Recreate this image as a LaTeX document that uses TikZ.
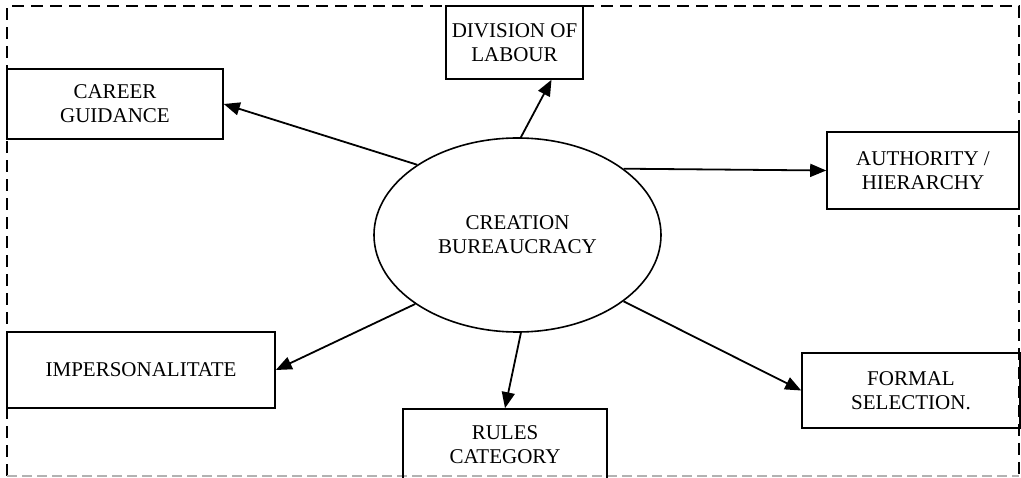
\documentclass[tikz,border=0pt]{standalone}
\usepackage{fontspec}
\setmainfont{Liberation Serif}
\usetikzlibrary{shapes.geometric, arrows.meta}
\tikzset{
    every picture/.style={x=1pt, y=-1pt},
    topic/.style={draw, rectangle, line width=1.6pt, align=center, inner sep=0pt,
        font=\fontsize{21}{24}\selectfont},
    hub/.style={draw, ellipse, line width=1.6pt, align=center, inner sep=0pt,
        minimum width=287pt, minimum height=194pt, font=\fontsize{21}{24}\selectfont},
    spoke/.style={line width=1.8pt, -{Triangle[length=16pt, width=13pt]}},
    frame/.style={line width=2.5pt, dash pattern=on 12pt off 7pt},
    framebase/.style={line width=1.2pt, gray!60, dash pattern=on 10pt off 5pt}
}

\begin{document}
\begin{tikzpicture}
    \useasboundingbox (0,0) rectangle (1021,478);

    % Dashed frame
    \draw[frame] (7,476) -- (7,6) -- (1019,6) -- (1019,476);
    \draw[framebase] (7,476) -- (1019,476);

    % Central ellipse
    \node[hub] (bureau) at (517.5,235) {CREATION\\BUREAUCRACY};

    % Boxes
    \node[topic, minimum width=137pt, minimum height=73pt] (division) at (514.5,42.5) {DIVISION OF\\LABOUR};
    \node[topic, minimum width=216pt, minimum height=70pt] (career) at (115,104) {CAREER\\GUIDANCE};
    \node[topic, minimum width=192pt, minimum height=77pt] (authority) at (923,170.5) {AUTHORITY /\\HIERARCHY};
    \node[topic, minimum width=268pt, minimum height=76pt] (impers) at (141,370) {IMPERSONALITATE};
    \node[topic, minimum width=218pt, minimum height=75pt] (formal) at (911,390.5) {FORMAL\\SELECTION.};
    \node[topic, minimum width=204pt, minimum height=72pt] (rules) at (505,445) {RULES\\CATEGORY};

    % Arrows from the ellipse
    \draw[spoke] (bureau.88) -- ([xshift=37pt]division.south);
    \draw[spoke] (bureau.145) -- (career.east);
    \draw[spoke] (bureau.32) -- (authority.west);
    \draw[spoke] (bureau.214) -- (impers.east);
    \draw[spoke] (bureau.272) -- (rules.north);
    \draw[spoke] (bureau.328) -- (formal.west);
\end{tikzpicture}
\end{document}
